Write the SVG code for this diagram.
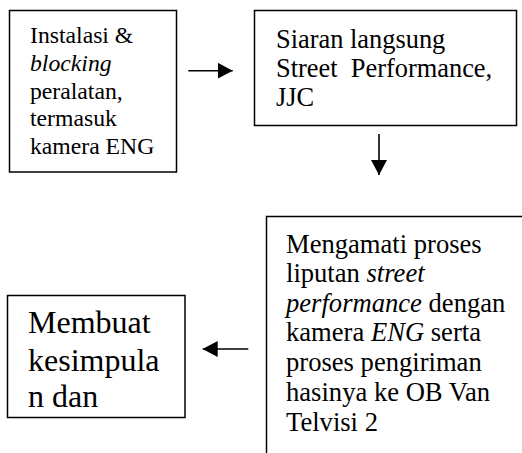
<svg xmlns="http://www.w3.org/2000/svg" width="522" height="453" viewBox="0 0 522 453">
<style>
.box{fill:#fff;stroke:#000;stroke-width:1.5}
.t{font-family:"Liberation Serif","Times New Roman",serif;fill:#000}
.i{font-style:italic}
.conn line{stroke:#000;stroke-width:1.6}
</style>
<defs>
<marker id="ah" viewBox="0 0 15 16" refX="15" refY="8" markerWidth="15" markerHeight="16" markerUnits="userSpaceOnUse" orient="auto">
<path d="M0,0 L15,8 L0,16 Z" fill="#000"/>
</marker>
</defs>
<rect width="522" height="453" fill="#fff"/>
<g id="node1">
<rect class="box" x="9.5" y="10.5" width="167" height="161.5"/>
<text class="t" font-size="23.7" x="30">
<tspan x="30" y="42.7">Instalasi &amp;</tspan>
<tspan x="30" y="71" class="i">blocking</tspan>
<tspan x="30" y="99">peralatan,</tspan>
<tspan x="30" y="126">termasuk</tspan>
<tspan x="30" y="154">kamera ENG</tspan>
</text>
</g>
<g id="node2">
<rect class="box" x="254.5" y="10.5" width="262" height="115"/>
<text class="t" font-size="26.4" x="276" xml:space="preserve"><tspan x="276" y="48.3">Siaran langsung</tspan><tspan x="276" y="77.3">Street  Performance,</tspan><tspan x="276" y="106">JJC</tspan></text>
</g>
<g id="node3">
<rect class="box" x="7.5" y="295.5" width="177.5" height="122"/>
<text class="t" font-size="32" x="28">
<tspan x="28" y="333.3">Membuat</tspan>
<tspan x="28" y="370.7">kesimpula</tspan>
<tspan x="28" y="406.7">n dan</tspan>
</text>
</g>
<g id="node4">
<rect class="box" x="266.5" y="216.5" width="300" height="300"/>
<text class="t" font-size="26.6" x="286">
<tspan x="286" y="252.7">Mengamati proses</tspan>
<tspan x="286" y="282">liputan <tspan class="i">street</tspan></tspan>
<tspan x="286" y="311.5"><tspan class="i">performance</tspan> dengan</tspan>
<tspan x="286" y="341">kamera <tspan class="i">ENG</tspan> serta</tspan>
<tspan x="286" y="370.5">proses pengiriman</tspan>
<tspan x="286" y="400.5">hasinya ke OB Van</tspan>
<tspan x="286" y="430.5">Telvisi 2</tspan>
</text>
</g>
<g id="connectors" class="conn">
<line x1="188.3" y1="70.7" x2="232.7" y2="70.7" marker-end="url(#ah)"/>
<line x1="379" y1="134" x2="379" y2="175" marker-end="url(#ah)"/>
<line x1="248.3" y1="349" x2="202.7" y2="349" marker-end="url(#ah)"/>
</g>
</svg>
